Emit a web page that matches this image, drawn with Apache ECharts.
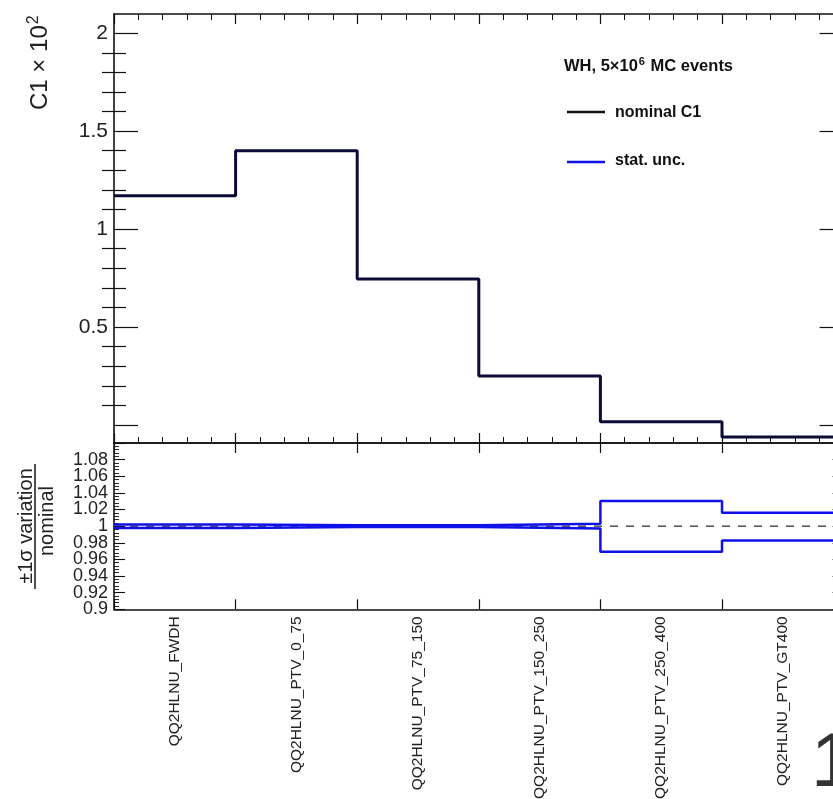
<!DOCTYPE html>
<html>
<head>
<meta charset="utf-8">
<script src="https://cdn.jsdelivr.net/npm/echarts@6/dist/echarts.min.js"></script>
<style>
  html, body { margin: 0; padding: 0; background: #fff; }
  #chart { width: 833px; height: 799px; }
</style>
</head>
<body>
<div id="chart"></div>
<script>
// STXS bins (categories on the x axis)
const categories = [
  'QQ2HLNU_FWDH',
  'QQ2HLNU_PTV_0_75',
  'QQ2HLNU_PTV_75_150',
  'QQ2HLNU_PTV_150_250',
  'QQ2HLNU_PTV_250_400',
  'QQ2HLNU_PTV_GT400'
];

// nominal C1 (x 10^2) per bin
const nominalC1 = [1.17, 1.40, 0.745, 0.25, 0.017, -0.062];

// +/- 1 sigma statistical variation divided by nominal
const statUp   = [1.0021, 1.0010, 1.0011, 1.0028, 1.0302, 1.0162];
const statDown = [0.9979, 0.9990, 0.9989, 0.9972, 0.9691, 0.9828];

// axis ticks
const upperMajorTicks = [0, 0.5, 1, 1.5, 2];
const upperLabelTicks = [0.5, 1, 1.5, 2];
const upperMinorTicks = [0.1, 0.2, 0.3, 0.4, 0.6, 0.7, 0.8, 0.9, 1.1, 1.2, 1.3, 1.4, 1.6, 1.7, 1.8, 1.9, 2.1];
const upperRange = [-0.092, 2.098];
const ratioRange = [0.9, 1.1];
// ratio labels, split in two interleaved sets so neighbours never collide
const ratioLabelsA = [0.92, 0.96, 1.00, 1.04, 1.08];
const ratioLabelsB = [0.90, 0.94, 0.98, 1.02, 1.06];

// histogram -> step polyline through the bin edges
function stepData(vals) {
  const d = vals.map((v, i) => [i, v]);
  d.push([vals.length, vals[vals.length - 1]]);
  return d;
}

const FONT = 'Liberation Sans, Arial, Helvetica, sans-serif';
const AXIS_COLOR = '#111';
const nBins = categories.length;

const chart = echarts.init(document.getElementById('chart'), null, { renderer: 'canvas' });

const hiddenLabel = { show: false };
const noSplit = { show: false };
const axisLine = { show: true, onZero: false, lineStyle: { color: AXIS_COLOR, width: 1.6 } };

function binAxis(gridIndex, position, withMinor) {
  return {
    type: 'value', gridIndex, position, min: 0, max: nBins, interval: 1,
    axisLine, splitLine: noSplit, axisLabel: hiddenLabel,
    axisTick: { show: true, inside: true, length: 10, lineStyle: { color: AXIS_COLOR, width: 1.2 } },
    minorTick: withMinor ? { show: true, splitNumber: 5, length: 6, lineStyle: { color: AXIS_COLOR, width: 1 } } : { show: false },
    minorSplitLine: { show: false }
  };
}

function upperY(position, ticks, len, withLabels, showLine) {
  return {
    type: 'value', gridIndex: 0, position, min: upperRange[0], max: upperRange[1],
    axisLine: showLine ? axisLine : { show: false },
    splitLine: noSplit,
    axisTick: { show: true, inside: true, length: len, customValues: ticks, lineStyle: { color: AXIS_COLOR, width: 1.2 } },
    axisLabel: withLabels ? {
      show: true, customValues: upperLabelTicks, fontFamily: FONT, fontSize: 21, color: '#222', margin: 6,
      formatter: v => String(v)
    } : hiddenLabel
  };
}

function ratioLabel(values) {
  return {
    show: true, customValues: values, showMinLabel: true, showMaxLabel: true,
    fontFamily: FONT, fontSize: 18, color: '#222', margin: 6,
    formatter: v => String(parseFloat(v.toFixed(2)))
  };
}

function ratioY(position, labels, withLine) {
  return {
    type: 'value', gridIndex: 1, position, min: ratioRange[0], max: ratioRange[1], interval: 0.02,
    axisLine: withLine ? axisLine : { show: false },
    splitLine: noSplit,
    axisTick: withLine ? { show: true, inside: true, length: 11, lineStyle: { color: AXIS_COLOR, width: 1.1 } } : { show: false },
    minorTick: withLine ? { show: true, splitNumber: 5, length: 5, lineStyle: { color: AXIS_COLOR, width: 0.9 } } : { show: false },
    minorSplitLine: { show: false },
    axisLabel: labels ? ratioLabel(labels) : hiddenLabel
  };
}

const option = {
  backgroundColor: '#fff',
  animation: false,
  grid: [
    { left: 114, top: 14, width: 729.6, height: 429, outerBoundsMode: 'none', containLabel: false },
    { left: 114, top: 443, width: 729.6, height: 166.3, outerBoundsMode: 'none', containLabel: false }
  ],
  xAxis: [
    binAxis(0, 'bottom', true),
    binAxis(0, 'top', true),
    {
      type: 'category', gridIndex: 1, position: 'bottom', data: categories, boundaryGap: true,
      axisLine, splitLine: noSplit,
      axisTick: { show: true, inside: true, length: 10, lineStyle: { color: AXIS_COLOR, width: 1.2 } },
      axisLabel: { show: true, rotate: 90, interval: 0, fontFamily: FONT, fontSize: 15.5, color: '#222', margin: 7 }
    },
    binAxis(1, 'top', false)
  ],
  yAxis: [
    upperY('left', upperMajorTicks, 24, true, true),
    upperY('left', upperMinorTicks, 12, false, false),
    upperY('right', upperMajorTicks, 24, false, true),
    upperY('right', upperMinorTicks, 12, false, false),
    ratioY('left', ratioLabelsA, true),
    ratioY('left', ratioLabelsB, false),
    ratioY('right', null, true)
  ],
  series: [
    {
      name: 'nominal C1', type: 'line', step: 'end', xAxisIndex: 0, yAxisIndex: 0,
      data: stepData(nominalC1), symbol: 'none', clip: true,
      lineStyle: { color: '#0b0b36', width: 3 }, z: 5
    },
    {
      name: 'unity', type: 'line', xAxisIndex: 3, yAxisIndex: 4,
      data: [[0, 1], [nBins, 1]], symbol: 'none', clip: true,
      lineStyle: { color: '#222', width: 1.2, type: [8, 8] }, z: 3
    },
    {
      name: 'stat. unc. up', type: 'line', step: 'end', xAxisIndex: 3, yAxisIndex: 4,
      data: stepData(statUp), symbol: 'none', clip: true,
      lineStyle: { color: '#1010e8', width: 2.5 }, z: 4
    },
    {
      name: 'stat. unc. down', type: 'line', step: 'end', xAxisIndex: 3, yAxisIndex: 4,
      data: stepData(statDown), symbol: 'none', clip: true,
      lineStyle: { color: '#1010e8', width: 2.5 }, z: 4
    }
  ],
  graphic: [
    // upper y-axis title
    {
      type: 'text', x: 26, y: 110, rotation: Math.PI / 2,
      style: {
        text: '{b|C1 × 10}{s|2}', fill: '#222', textVerticalAlign: 'top',
        rich: {
          b: { fontFamily: FONT, fontSize: 24, fill: '#222', verticalAlign: 'bottom' },
          s: { fontFamily: FONT, fontSize: 16, fill: '#222', verticalAlign: 'top', padding: [0, 0, 10, 1] }
        }
      }
    },
    // ratio y-axis title: fraction
    {
      type: 'text', x: 36, y: 526, rotation: Math.PI / 2,
      style: { text: '±1σ variation', fontFamily: FONT, fontSize: 20, fill: '#222', align: 'center', verticalAlign: 'bottom' }
    },
    {
      type: 'line', shape: { x1: 35, y1: 589, x2: 35, y2: 464 },
      style: { stroke: '#222', lineWidth: 1.6 }
    },
    {
      type: 'text', x: 37, y: 521, rotation: Math.PI / 2,
      style: { text: 'nominal', fontFamily: FONT, fontSize: 20, fill: '#222', align: 'center', verticalAlign: 'top' }
    },
    // legend
    {
      type: 'text', x: 564, y: 76,
      style: {
        text: '{t|WH, 5×10}{s|6}{t| MC events}', verticalAlign: 'bottom',
        rich: {
          t: { fontFamily: FONT, fontWeight: 'bold', fontSize: 16.5, fill: '#111' },
          s: { fontFamily: FONT, fontWeight: 'bold', fontSize: 11, fill: '#111', padding: [0, 1, 9, 1] }
        }
      }
    },
    { type: 'line', shape: { x1: 567, y1: 112, x2: 605, y2: 112 }, style: { stroke: '#111', lineWidth: 2.5 } },
    {
      type: 'text', x: 615, y: 113,
      style: { text: 'nominal C1', fontFamily: FONT, fontWeight: 'bold', fontSize: 16, fill: '#111', verticalAlign: 'middle' }
    },
    { type: 'line', shape: { x1: 567, y1: 162, x2: 605, y2: 162 }, style: { stroke: '#1010e8', lineWidth: 2.5 } },
    {
      type: 'text', x: 615, y: 161,
      style: { text: 'stat. unc.', fontFamily: FONT, fontWeight: 'bold', fontSize: 16, fill: '#111', verticalAlign: 'middle' }
    },
    // plot title above the frame
    {
      type: 'text', x: 375, y: -2,
      style: { text: 'C1 components', fontFamily: FONT, fontWeight: 'bold', fontSize: 28, fill: '#111', verticalAlign: 'bottom' }
    },
    // slide page number
    {
      type: 'text', x: 811, y: 803,
      style: { text: '1', fontFamily: FONT, fontSize: 76, fill: '#333', verticalAlign: 'bottom' }
    }
  ]
};

chart.setOption(option);
</script>
</body>
</html>
